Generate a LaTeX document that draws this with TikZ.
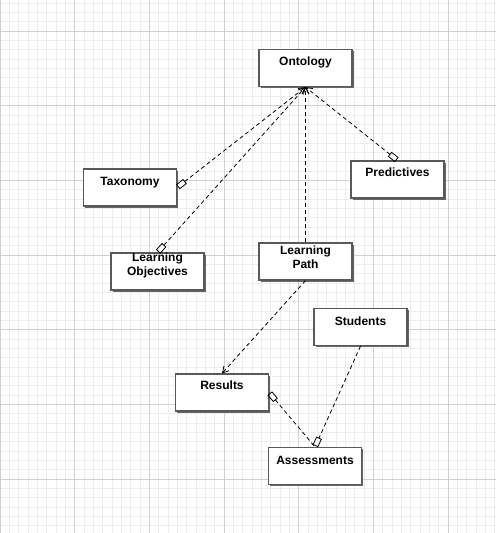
\documentclass[tikz,border=0pt]{standalone}
\usepackage{fontspec}
\setmainfont{Liberation Sans}
\usepackage{tikz}
\usetikzlibrary{positioning,shadows}
\usetikzlibrary{arrows.meta}
\tikzset{
  entity/.style  ={ rectangle, draw=black!65, fill=white, line width=1.2pt,
                    minimum width=93pt, minimum height=37pt, inner sep=0pt,
                    drop shadow={shadow xshift=1.8pt, shadow yshift=-1.8pt, fill=black!60, opacity=1} },
  caption/.style ={ font=\bfseries\fontsize{12}{14}\selectfont, align=center, inner sep=0pt },
  minorgrid/.style={ draw=black!7, line width=0.6pt },
  majorgrid/.style={ draw=black!18, line width=0.6pt },
%
  dep/.style={dashed, dash pattern=on 4pt off 3pt, line width=0.8pt, draw=black},
  d2a/.style={dep, -{Straight Barb[length=6pt,width=7pt]}},
  a2d/.style={dep, {Rectangle[open,length=9pt,width=6pt,sep=1pt]}-},
  a2a/.style={dep, {Rectangle[open,length=9pt,width=6pt,sep=1pt]}-{Straight Barb[length=6pt,width=7pt]}},
  d2r/.style={dep, -{Rectangle[open,length=9pt,width=6pt,sep=1pt]}}
}

\begin{document}
\begin{tikzpicture}[x=1pt,y=-1pt]
        \useasboundingbox (0,0) rectangle (496,533);
        % grid
        \foreach \i in {0,...,53} \draw[minorgrid] ({\i*9.3333},0) -- ({\i*9.3333},533);
        \foreach \i in {0,...,57} \draw[minorgrid] (0,{3+\i*9.3333}) -- (496,{3+\i*9.3333});
        \foreach \i in {0,...,6} \draw[majorgrid] ({\i*74.667},0) -- ({\i*74.667},533);
        \foreach \i in {0,...,6} \draw[majorgrid] (0,{31+\i*74.667}) -- (496,{31+\i*74.667});
        % boxes
        \node[entity] (Onto)  at (305.5, 68.0) {};
        \node[entity] (Taxo)  at (130.0,187.5) {};
        \node[entity] (LObj)  at (157.5,271.5) {};
        \node[entity] (LPath) at (305.5,261.5) {};
        \node[entity] (Pred)  at (397.5,179.5) {};
        \node[entity] (Res)   at (222.0,392.5) {};
        \node[entity] (Stud)  at (360.5,327.0) {};
        \node[entity] (Asmt)  at (315.0,466.0) {};
        % texts
        \node[caption] (OntoT)  at (305.5,62.5)  {Ontology};
        \node[caption] (TaxoT)  at (130.0,182.5) {Taxonomy};
        \node[caption] (LObjT)  at (157.5,265.5) {Learning\\Objectives};
        \node[caption] (LPathT) at (305.5,257.0) {Learning\\Path};
        \node[caption] (PredT)  at (397.5,172.5) {Predictives};
        \node[caption] (ResT)   at (222.0,385.5) {Results};
        \node[caption] (StudT)  at (360.5,321.5) {Students};
        \node[caption] (AsmtT)  at (315.0,460.5) {Assessments};
        % links
        \draw[a2a] (Taxo.east) -- (Onto.south);
        \draw[a2a] (LObj.north) -- (Onto.south);
        \draw[d2a] (LPath.north) -- (Onto.south);
        \draw[a2a] (Pred.north) -- (Onto.south);
        \draw[d2a] (LPath.south) -- (Res.north);
        \draw[d2r] (Stud.south) -- (Asmt.north);
        \draw[a2d] (Res.east) -- (Asmt.north);
\end{tikzpicture}
\end{document}
